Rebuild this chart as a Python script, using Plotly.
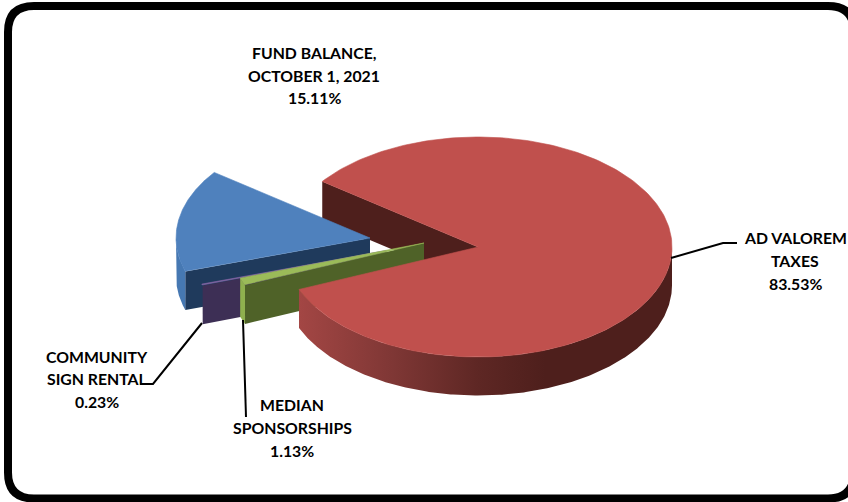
import numpy as np
import plotly.graph_objects as go

# ---- data ----
categories = ["AD VALOREM TAXES", "MEDIAN SPONSORSHIPS", "COMMUNITY SIGN RENTAL", "FUND BALANCE, OCTOBER 1, 2021"]
values = [83.53, 1.13, 0.23, 15.11]
label_lines = [["AD VALOREM", "TAXES"], ["MEDIAN", "SPONSORSHIPS"], ["COMMUNITY", "SIGN RENTAL"], ["FUND BALANCE,", "OCTOBER 1, 2021"]]

# ---- styling / projection of the 3-D pie ----
W, H = 848, 502
RX, RY, DEPTH = 194, 110, 38.5
START = 143.4                     # degrees, slices run clockwise
apexes = [(478, 247), (424, 243), (386.5, 250.5), (370, 238)]   # exploded slice tips
top_colors = ["#C0504D", "#9BBB59", "#8064A2", "#4F81BD"]
face_colors = ["#4E1F1C", "#4F6228", "#3D2F55", "#1F3A5C"]
rim_colors = ["#4E1F1C", "#8FB04E", "#3D2F55", "#4678B2"]
label_pos = [(795, [237, 260, 283]), (292, [404.5, 427, 450]), (97, [356, 378, 401]), (314, [52, 75, 97])]
FONT = dict(family="Lato, sans-serif", size=15.8, color="#000000")
leaders = [[(671, 258), (723, 243), (737, 243)],
           [(243, 320), (246, 417)],
           [(202, 323), (153, 384), (140, 384)]]

# ---- geometry from the values ----
fracs = np.array(values) / sum(values)
edges = START - np.concatenate([[0], np.cumsum(fracs)]) * 360


def pt(apex, deg):
    r = np.radians(deg)
    return apex[0] + RX * np.cos(r), apex[1] - RY * np.sin(r)


def arc(apex, a0, a1, n=240):
    t = np.linspace(a0, a1, n)
    r = np.radians(t)
    return apex[0] + RX * np.cos(r), apex[1] - RY * np.sin(r)


fig = go.Figure()


def poly(xs, ys, color, line=None, gradient=None):
    kw = dict(fillgradient=gradient) if gradient else dict(fillcolor=color)
    fig.add_trace(go.Scatter(x=list(xs), y=list(ys), mode="lines", fill="toself",
                             line=dict(width=0.6 if line else 0, color=line or color),
                             hoverinfo="skip", showlegend=False, **kw))


def side_face(i, deg):
    a = apexes[i]
    px, py = pt(a, deg)
    poly([a[0], px, px, a[0]], [a[1], py, py + DEPTH, a[1] + DEPTH], face_colors[i])


def outer_wall(i, a0, a1, gradient=None):
    x, y = arc(apexes[i], a0, a1)
    poly(np.r_[x, x[::-1]], np.r_[y, y[::-1] + DEPTH], rim_colors[i], gradient=gradient)


def top(i, a0, a1):
    x, y = arc(apexes[i], a0, a1)
    a = apexes[i]
    poly(np.r_[a[0], x, a[0]], np.r_[a[1], y, a[1]], top_colors[i], line=top_colors[i])


# red back face first, then the exploded slices, then the red slice on top
side_face(0, edges[0])

# fund balance: its wall shows only from the rim's left-most point (-180 deg) forward
side_face(3, edges[3])
outer_wall(3, edges[3], -180)
top(3, edges[3], edges[4])

# community sign rental
side_face(2, edges[2])
top(2, edges[2], edges[3])

# median sponsorships
side_face(1, edges[1])
outer_wall(1, edges[1], edges[2])
top(1, edges[1], edges[2])

# ad valorem wall with its left-to-right shading, then its top
red_grad = dict(type="horizontal",
                colorscale=[[0, "#A34644"], [0.25, "#7F3735"], [0.48, "#5E2724"], [0.66, "#4E1F1C"], [1, "#4E1F1C"]])
outer_wall(0, 0, edges[1], gradient=red_grad)
top(0, edges[0], edges[1])

# leader lines
for pts in leaders:
    fig.add_trace(go.Scatter(x=[p[0] for p in pts], y=[p[1] for p in pts], mode="lines",
                             line=dict(color="black", width=2), hoverinfo="skip", showlegend=False))

# labels
for lines, v, (cx, ys) in zip(label_lines, values, label_pos):
    for txt, y in zip(lines + [f"{v:.2f}%"], ys):
        fig.add_annotation(x=cx, y=y, text=f"<b>{txt}</b>", showarrow=False, font=FONT,
                           xanchor="center", yanchor="middle", xref="x", yref="y")

# rounded chart frame, clipped by the page at the right
L, T, R, B, C = 8, 6, 854, 498.5, 26
fig.add_shape(type="path", xref="x", yref="y", line=dict(color="black", width=8),
              path=(f"M {L + C} {T} L {R - C} {T} Q {R} {T} {R} {T + C} L {R} {B - C} Q {R} {B} {R - C} {B} "
                    f"L {L + C} {B} Q {L} {B} {L} {B - C} L {L} {T + C} Q {L} {T} {L + C} {T} Z"))

fig.update_xaxes(range=[0, W], visible=False, fixedrange=True)
fig.update_yaxes(range=[H, 0], visible=False, fixedrange=True)
fig.update_layout(width=W, height=H, margin=dict(l=0, r=0, t=0, b=0), showlegend=False,
                  paper_bgcolor="white", plot_bgcolor="white")

fig.write_html("out.html", config=dict(displayModeBar=False),
               post_script="document.body.style.margin='0';document.documentElement.style.overflow='hidden';")
